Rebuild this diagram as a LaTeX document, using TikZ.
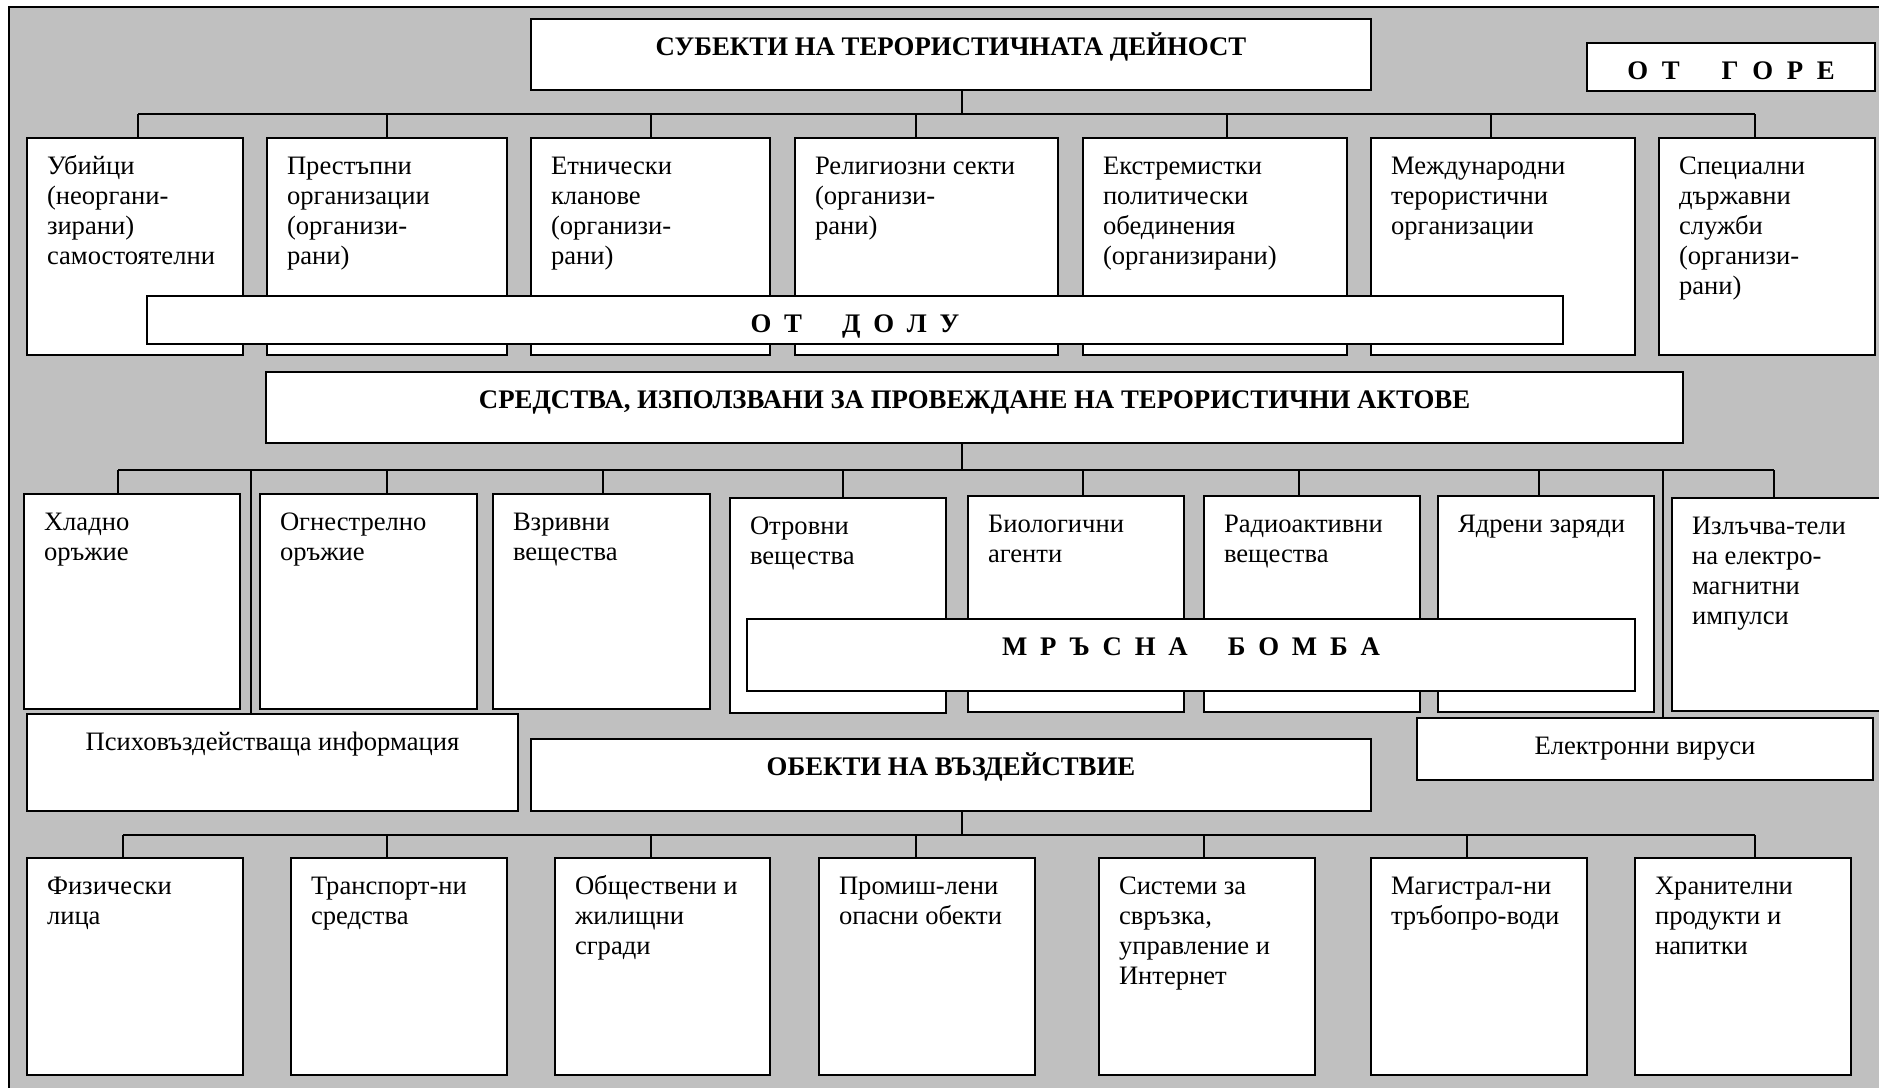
\documentclass[tikz,border=0pt]{standalone}
\usepackage{fontspec}
\setmainfont{Liberation Serif}
\usetikzlibrary{calc}
\definecolor{bg}{RGB}{192,192,192}
\tikzset{
  box/.style={draw=black, fill=white, line width=0.9pt, inner sep=0pt, outer sep=0pt, rectangle},
  txt/.style={inner sep=0pt, outer sep=0pt, align=left, anchor=north west, font=\fontsize{13.3}{15}\selectfont},
  head/.style={inner sep=0pt, outer sep=0pt, anchor=north, font=\fontsize{13.4}{15}\selectfont\bfseries},
  conn/.style={line width=0.8pt, draw=black},
}
\newcommand\bx[5]{\node[box, minimum width={(#4-#2)*0.5pt}, minimum height={(#5-#3)*0.5pt}] (#1) at ({(#2+#4)/2},{(#3+#5)/2}) {};}
\newcommand\tx[2]{\node[txt] (#1t) at ($(#1.north west)+(20,14)$) {\rule{0pt}{11pt}#2};}
\newcommand\hd[2]{\node[head] (#1t) at ($(#1.north)+(0,14)$) {\rule{0pt}{11pt}#2};}
\newcommand\ls{\hspace{6.4pt}}
\newcommand\wsp{\hspace{20pt}}
\begin{document}
\begin{tikzpicture}[x=0.5pt, y=-0.5pt]
\useasboundingbox (0,0) rectangle (1879,1087);
\clip (0,0) rectangle (1879,1087);
\draw[fill=bg, line width=0.8pt] (9,7) rectangle (1900,1100);

% ---------- level 1 ----------
\bx{subj}{531}{19}{1371}{90}
\hd{subj}{СУБЕКТИ НА ТЕРОРИСТИЧНАТА ДЕЙНОСТ}
\bx{gore}{1587}{43}{1875}{91}
\hd{gore}{О\hspace{6.8pt}Т\hspace{21pt}Г\hspace{6.8pt}О\hspace{6.8pt}Р\hspace{6.8pt}Е}

\coordinate (a0) at (962,114);
\coordinate (a1) at (138,114);
\coordinate (a2) at (387,114);
\coordinate (a3) at (651,114);
\coordinate (a4) at (916,114);
\coordinate (a5) at (1227,114);
\coordinate (a6) at (1491,114);
\coordinate (a7) at (1755,114);

\bx{r11}{27}{138}{243}{355}
\bx{r12}{267}{138}{507}{355}
\bx{r13}{531}{138}{770}{355}
\bx{r14}{795}{138}{1058}{355}
\bx{r15}{1083}{138}{1347}{355}
\bx{r16}{1371}{138}{1635}{355}
\bx{r17}{1659}{138}{1875}{355}

\draw[conn] (subj.south -| a0) -- (a0);
\draw[conn] (a1) -- (a7);
\draw[conn] (a1) -- (a1 |- r11.north);
\draw[conn] (a2) -- (a2 |- r12.north);
\draw[conn] (a3) -- (a3 |- r13.north);
\draw[conn] (a4) -- (a4 |- r14.north);
\draw[conn] (a5) -- (a5 |- r15.north);
\draw[conn] (a6) -- (a6 |- r16.north);
\draw[conn] (a7) -- (a7 |- r17.north);

\tx{r11}{Убийци\\(неоргани-\\зирани)\\самостоятелни}
\tx{r12}{Престъпни\\организации\\(организи-\\рани)}
\tx{r13}{Етнически\\кланове\\(организи-\\рани)}
\tx{r14}{Религиозни секти\\(организи-\\рани)}
\tx{r15}{Екстремистки\\политически\\обединения\\(организирани)}
\tx{r16}{Международни\\терористични\\организации}
\tx{r17}{Специални\\държавни\\служби\\(организи-\\рани)}

\bx{dolu}{147}{296}{1563}{344}
\hd{dolu}{О\ls Т\wsp Д\ls О\ls Л\ls У}

% ---------- level 2 ----------
\bx{sred}{266}{372}{1683}{443}
\hd{sred}{СРЕДСТВА, ИЗПОЛЗВАНИ ЗА ПРОВЕЖДАНЕ НА ТЕРОРИСТИЧНИ АКТОВЕ}

\coordinate (b0) at (962,470);
\coordinate (b1) at (118,470);
\coordinate (b2) at (387,470);
\coordinate (b3) at (603,470);
\coordinate (b4) at (843,470);
\coordinate (b5) at (1083,470);
\coordinate (b6) at (1299,470);
\coordinate (b7) at (1539,470);
\coordinate (b8) at (1774,470);
\coordinate (bp) at (251,470);
\coordinate (be) at (1663,470);

\bx{r21}{24}{494}{240}{709}
\bx{r22}{260}{494}{477}{709}
\bx{r23}{493}{494}{710}{709}
\bx{r24}{730}{498}{946}{713}
\bx{r25}{968}{496}{1184}{712}
\bx{r26}{1204}{496}{1420}{712}
\bx{r27}{1438}{496}{1654}{712}
\bx{r28}{1672}{498}{1900}{711}
\bx{psy}{27}{714}{518}{811}
\bx{elv}{1417}{718}{1873}{780}

\draw[conn] (sred.south -| b0) -- (b0);
\draw[conn] (b1) -- (b8);
\draw[conn] (b1) -- (b1 |- r21.north);
\draw[conn] (b2) -- (b2 |- r22.north);
\draw[conn] (b3) -- (b3 |- r23.north);
\draw[conn] (b4) -- (b4 |- r24.north);
\draw[conn] (b5) -- (b5 |- r25.north);
\draw[conn] (b6) -- (b6 |- r26.north);
\draw[conn] (b7) -- (b7 |- r27.north);
\draw[conn] (b8) -- (b8 |- r28.north);
\draw[conn] (bp) -- (bp |- psy.north);
\draw[conn] (be) -- (be |- elv.north);

\tx{r21}{Хладно\\оръжие}
\tx{r22}{Огнестрелно\\оръжие}
\tx{r23}{Взривни\\вещества}
\tx{r24}{Отровни\\вещества}
\tx{r25}{Биологични\\агенти}
\tx{r26}{Радиоактивни\\вещества}
\tx{r27}{Ядрени заряди}
\tx{r28}{Излъчва-тели\\на електро-\\магнитни\\импулси}

\node[head, font=\fontsize{13.3}{15}\selectfont] (psyt) at ($(psy.north)+(0,14)$) {\rule{0pt}{11pt}Психовъздействаща информация};
\node[head, font=\fontsize{13.3}{15}\selectfont] (elvt) at ($(elv.north)+(0,14)$) {\rule{0pt}{11pt}Електронни вируси};

\bx{bomb}{747}{619}{1635}{691}
\hd{bomb}{М\ls Р\ls Ъ\ls С\ls Н\ls А\wsp Б\ls О\ls М\ls Б\ls А}

% ---------- level 3 ----------
\bx{obj}{531}{739}{1371}{811}
\hd{obj}{ОБЕКТИ НА ВЪЗДЕЙСТВИЕ}

\coordinate (c0) at (962,835);
\coordinate (c1) at (123,835);
\coordinate (c2) at (387,835);
\coordinate (c3) at (651,835);
\coordinate (c4) at (916,835);
\coordinate (c5) at (1204,835);
\coordinate (c6) at (1467,835);
\coordinate (c7) at (1755,835);

\bx{r31}{27}{858}{243}{1075}
\bx{r32}{291}{858}{507}{1075}
\bx{r33}{555}{858}{770}{1075}
\bx{r34}{819}{858}{1035}{1075}
\bx{r35}{1099}{858}{1315}{1075}
\bx{r36}{1371}{858}{1587}{1075}
\bx{r37}{1635}{858}{1851}{1075}

\draw[conn] (obj.south -| c0) -- (c0);
\draw[conn] (c1) -- (c7);
\draw[conn] (c1) -- (c1 |- r31.north);
\draw[conn] (c2) -- (c2 |- r32.north);
\draw[conn] (c3) -- (c3 |- r33.north);
\draw[conn] (c4) -- (c4 |- r34.north);
\draw[conn] (c5) -- (c5 |- r35.north);
\draw[conn] (c6) -- (c6 |- r36.north);
\draw[conn] (c7) -- (c7 |- r37.north);

\tx{r31}{Физически\\лица}
\tx{r32}{Транспорт-ни\\средства}
\tx{r33}{Обществени и\\жилищни\\сгради}
\tx{r34}{Промиш-лени\\опасни обекти}
\tx{r35}{Системи за\\свръзка,\\управление и\\Интернет}
\tx{r36}{Магистрал-ни\\тръбопро-води}
\tx{r37}{Хранителни\\продукти и\\напитки}
\end{tikzpicture}
\end{document}
